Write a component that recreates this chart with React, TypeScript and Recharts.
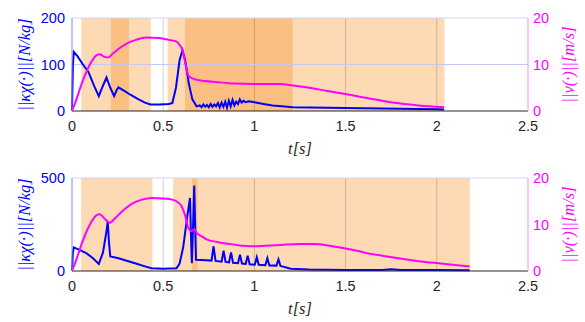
import React from "react";
import {
  ComposedChart,
  Line,
  ReferenceArea,
  ReferenceLine,
  XAxis,
  YAxis,
} from "recharts";

// top panel: force magnitude (blue) and speed (magenta)
const topForceT = [0, 0.005, 0.01, 0.03, 0.06, 0.09, 0.12, 0.147, 0.165, 0.189, 0.21, 0.231, 0.245, 0.255, 0.28, 0.32, 0.36, 0.4, 0.43, 0.48, 0.53, 0.55, 0.57, 0.59, 0.606, 0.62, 0.64, 0.66, 0.683, 0.7, 0.71, 0.72, 0.73, 0.74, 0.75, 0.76, 0.77, 0.78, 0.79, 0.8, 0.81, 0.82, 0.83, 0.84, 0.85, 0.86, 0.87, 0.88, 0.89, 0.9, 0.91, 0.92, 0.93, 0.94, 0.95, 0.97, 1.0, 1.05, 1.1, 1.15, 1.21, 1.4, 1.6, 1.8, 2.0, 2.04];
const topForce = [0, 100, 127, 118, 100, 84, 55, 32, 50, 72, 50, 32, 45, 51, 45, 35, 26, 18, 14, 14, 15, 17, 50, 110, 131, 110, 60, 25, 10, 12, 8, 14, 9, 13, 8, 15, 9, 14, 10, 17, 8, 18, 9, 20, 7, 22, 10, 24, 12, 20, 15, 25, 18, 22, 19, 21, 19, 15, 12, 10, 8, 7, 6, 5, 4, 3];
const topSpeedT = [0, 0.02, 0.05, 0.08, 0.11, 0.135, 0.152, 0.175, 0.198, 0.22, 0.26, 0.3, 0.35, 0.408, 0.48, 0.53, 0.573, 0.59, 0.606, 0.62, 0.637, 0.66, 0.7, 0.8, 0.885, 1.0, 1.07, 1.142, 1.21, 1.3, 1.4, 1.508, 1.6, 1.7, 1.8, 1.9, 2.04];
const topSpeed = [0, 2, 5.5, 8.5, 10.8, 12, 12.2, 11.7, 11.5, 12.2, 13.5, 14.5, 15.3, 15.8, 15.7, 15.3, 14.9, 14.2, 13, 10.5, 7.7, 7, 6.6, 6.2, 5.9, 5.8, 5.8, 5.8, 5.5, 5.0, 4.3, 3.6, 2.9, 2.2, 1.6, 1.2, 0.8];

// bottom panel
const botForceT = [0, 0.005, 0.01, 0.05, 0.08, 0.115, 0.147, 0.17, 0.19, 0.196, 0.203, 0.21, 0.25, 0.3, 0.35, 0.4, 0.436, 0.5, 0.573, 0.59, 0.61, 0.63, 0.647, 0.652, 0.657, 0.664, 0.67, 0.675, 0.68, 0.738, 0.765, 0.776, 0.787, 0.82, 0.831, 0.842, 0.861, 0.872, 0.883, 0.91, 0.921, 0.932, 0.952, 0.963, 0.974, 1.002, 1.013, 1.024, 1.06, 1.071, 1.082, 1.121, 1.132, 1.143, 1.2, 1.3, 1.5, 1.7, 1.75, 1.8, 2.0, 2.18];
const botForce = [0, 100, 127, 110, 95, 69, 38, 100, 220, 269, 150, 78, 70, 55, 40, 25, 15, 12, 15, 40, 130, 280, 393, 200, 42, 250, 460, 250, 60, 58, 56, 133, 54, 50, 109, 49, 46, 100, 44, 42, 87, 40, 38, 82, 36, 34, 74, 33, 31, 69, 30, 29, 63, 27, 12, 8, 6, 6, 10, 6, 5, 4];
const botSpeedT = [0, 0.02, 0.05, 0.08, 0.11, 0.135, 0.152, 0.18, 0.207, 0.24, 0.28, 0.33, 0.38, 0.436, 0.5, 0.555, 0.58, 0.6, 0.62, 0.637, 0.656, 0.67, 0.683, 0.71, 0.738, 0.8, 0.885, 0.995, 1.142, 1.25, 1.325, 1.42, 1.508, 1.6, 1.7, 1.78, 1.9, 2.0, 2.1, 2.18];
const botSpeed = [0, 2, 5.5, 8.5, 10.8, 12, 12.2, 11.2, 10.4, 11.5, 13, 14.5, 15.3, 15.7, 15.6, 15.3, 14.8, 14, 12, 9.3, 8.6, 9, 8.2, 7.5, 6.8, 6.2, 5.7, 5.3, 5.6, 5.8, 5.8, 5.4, 4.8, 4.0, 3.3, 2.8, 2.1, 1.7, 1.3, 0.95];

// shaded phases: [start, end, dark?]
const topPhases: [number, number, boolean][] = [
  [0.051, 0.212, false],
  [0.212, 0.313, true],
  [0.313, 0.432, false],
  [0.524, 0.619, false],
  [0.619, 1.211, true],
  [1.211, 2.042, false],
];
const botPhases: [number, number, boolean][] = [
  [0.05, 0.441, false],
  [0.555, 0.657, false],
  [0.657, 0.69, true],
  [0.69, 2.181, false],
];

const xTicks = [0, 0.5, 1, 1.5, 2, 2.5];
const vGrid = [0.5, 1, 1.5, 2];
const speedTicks = [0, 10, 20];

const zip = (t: number[], v: number[]) => t.map((x, i) => ({ t: x, v: v[i] }));

const BLUE = "#0000ff";
const MAGENTA = "#ff00ff";
const LIGHT = "#fdd9b4";
const DARK = "#fbbf82";
const sans = "Liberation Sans, Arial, sans-serif";
const serif = "Liberation Serif, serif";

const SideLabel = ({ viewBox, text, dx, color }: any) => {
  const x = viewBox.x + dx;
  const y = viewBox.y + viewBox.height / 2;
  return (
    <text
      x={x}
      y={y}
      transform={`rotate(-90 ${x} ${y})`}
      textAnchor="middle"
      dominantBaseline="central"
      fill={color}
      style={{ fontFamily: serif, fontStyle: "italic", fontSize: 16.5 }}
    >
      {text}
    </text>
  );
};

const TimeLabel = ({ viewBox }: any) => (
  <text
    x={viewBox.x + viewBox.width / 2}
    y={viewBox.y + 37}
    textAnchor="middle"
    dominantBaseline="central"
    fill="#262626"
    style={{ fontFamily: serif, fontStyle: "italic", fontSize: 16.5 }}
  >
    t[s]
  </text>
);

interface PanelProps {
  force: { t: number; v: number }[];
  speed: { t: number; v: number }[];
  phases: [number, number, boolean][];
  forceMax: number;
  forceTicks: number[];
  midLine: boolean;
  height: number;
}

const Panel: React.FC<PanelProps> = ({ force, speed, phases, forceMax, forceTicks, midLine, height }) => (
  <ComposedChart width={585} height={height} margin={{ top: 18, right: 0, bottom: 0, left: 0 }}>
    <XAxis
      type="number"
      dataKey="t"
      domain={[0, 2.5]}
      ticks={xTicks}
      height={height - 18 - 93}
      tickSize={0}
      tickMargin={10}
      tick={{ fill: "#262626", fontSize: 14.5, fontFamily: sans }}
      axisLine={{ stroke: "#262626" }}
      label={<TimeLabel />}
    />
    <YAxis
      yAxisId="left"
      domain={[0, forceMax]}
      ticks={forceTicks}
      width={72}
      tickSize={0}
      tickMargin={7}
      tick={{ fill: BLUE, fontSize: 14.5, fontFamily: sans }}
      axisLine={{ stroke: "#8888ff" }}
      label={<SideLabel text="||κχ(·)||[N/kg]" dx={24} color={BLUE} />}
    />
    <YAxis
      yAxisId="right"
      orientation="right"
      domain={[0, 20]}
      ticks={speedTicks}
      width={57}
      tickSize={0}
      tickMargin={5}
      tick={{ fill: MAGENTA, fontSize: 14.5, fontFamily: sans, textAnchor: "start" }}
      axisLine={{ stroke: "#ff88ff" }}
      label={<SideLabel text="||v(·)||[m/s]" dx={40} color={MAGENTA} />}
    />
    {phases.map(([a, b, dark], i) => (
      <ReferenceArea key={i} yAxisId="left" x1={a} x2={b} fill={dark ? DARK : LIGHT} fillOpacity={1} stroke="none" />
    ))}
    {vGrid.map((x) => (
      <ReferenceLine key={x} yAxisId="left" x={x} stroke="#000" strokeOpacity={0.18} strokeWidth={1} />
    ))}
    {midLine && <ReferenceLine yAxisId="left" y={forceMax / 2} stroke="#c8c8f4" strokeWidth={1} />}
    <ReferenceLine yAxisId="left" y={forceMax} stroke="#d4d4f6" strokeWidth={1} />
    <Line
      yAxisId="left"
      data={force}
      dataKey="v"
      type="linear"
      stroke={BLUE}
      strokeWidth={2}
      dot={false}
      isAnimationActive={false}
    />
    <Line
      yAxisId="right"
      data={speed}
      dataKey="v"
      type="monotone"
      stroke={MAGENTA}
      strokeWidth={2}
      dot={false}
      isAnimationActive={false}
    />
  </ComposedChart>
);

const App: React.FC = () => (
  <div style={{ position: "absolute", left: 0, top: 0, width: 585, height: 322, background: "#fff" }}>
    <Panel
      force={zip(topForceT, topForce)}
      speed={zip(topSpeedT, topSpeed)}
      phases={topPhases}
      forceMax={200}
      forceTicks={[0, 100, 200]}
      midLine
      height={160}
    />
    <Panel
      force={zip(botForceT, botForce)}
      speed={zip(botSpeedT, botSpeed)}
      phases={botPhases}
      forceMax={500}
      forceTicks={[0, 500]}
      midLine={false}
      height={162}
    />
  </div>
);

export default App;
